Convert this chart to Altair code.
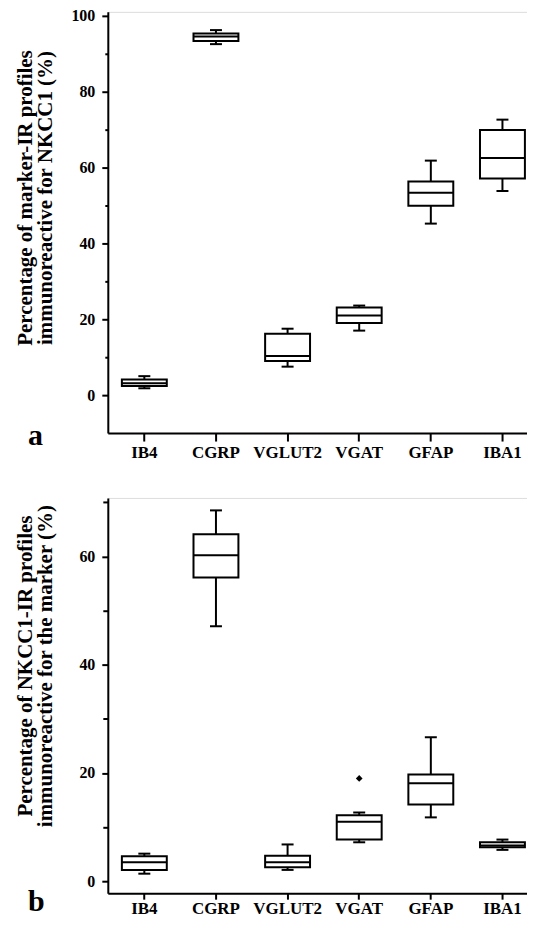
import altair as alt
import pandas as pd

markers = ["IB4", "CGRP", "VGLUT2", "VGAT", "GFAP", "IBA1"]

# Panel a: % of marker-IR profiles immunoreactive for NKCC1
a_low = [1.8, 92.5, 7.5, 17.0, 45.2, 53.8]
a_q1 = [2.4, 93.3, 9.0, 19.0, 49.9, 57.1]
a_med = [3.1, 94.5, 10.3, 21.0, 53.3, 62.5]
a_q3 = [4.1, 95.3, 16.2, 23.1, 56.3, 69.9]
a_high = [5.0, 96.2, 17.5, 23.6, 61.8, 72.6]

# Panel b: % of NKCC1-IR profiles immunoreactive for the marker
b_low = [1.4, 47.1, 2.1, 7.2, 11.8, 5.8]
b_q1 = [2.1, 56.1, 2.6, 7.7, 14.2, 6.3]
b_med = [3.5, 60.2, 3.5, 11.0, 18.1, 6.6]
b_q3 = [4.6, 64.1, 4.7, 12.2, 19.7, 7.2]
b_high = [5.1, 68.5, 6.8, 12.7, 26.6, 7.7]
b_out_marker = ["VGAT"]
b_out_value = [19.0]

a_ticks = [0, 10, 20, 30, 40, 50, 60, 70, 80, 90, 100]
b_ticks = [0, 5, 10, 15, 20, 25, 30, 35, 40, 45, 50, 55, 60, 65, 70]

FONT = "Liberation Serif, Times New Roman, Times, serif"
W = 432


def panel(low, q1, med, q3, high, domain, height, ticks, minor_size,
          title_lines, title_y, letter, letter_dy, xtick, xpad,
          out_m=None, out_v=None):
    df = pd.DataFrame({"marker": markers, "low": low, "q1": q1,
                       "med": med, "q3": q3, "high": high})
    xenc = alt.X("marker:N", sort=markers,
                 scale=alt.Scale(paddingInner=0, paddingOuter=0.01),
                 axis=alt.Axis(title=None, labelAngle=0, labelFont=FONT,
                               labelFontSize=17, labelFontWeight="bold",
                               labelColor="black", tickSize=xtick, tickWidth=2,
                               tickColor="black", domainWidth=2,
                               domainColor="black", labelPadding=xpad))
    yscale = alt.Scale(domain=domain, nice=False, zero=False)
    yaxis = alt.Axis(values=ticks,
                     labelExpr="datum.value % 20 === 0 ? format(datum.value, 'd') : ''",
                     tickSize={"condition": {"test": "datum.value % 20 === 0", "value": 6},
                               "value": minor_size},
                     tickWidth=2, tickColor="black", domainWidth=2,
                     domainColor="black", labelFont=FONT, labelFontSize=16,
                     labelFontWeight="bold", labelColor="black", labelPadding=7,
                     grid=False, title=title_lines, titleFont=FONT,
                     titleFontSize=21, titleFontWeight="bold",
                     titleColor="black", titleLineHeight=20, titleX=-82,
                     titleY=title_y, titleBaseline="middle", titleAlign="center",
                     titleAngle=-90)
    base = alt.Chart(df)
    whisk = base.mark_rule(color="black", strokeWidth=2).encode(
        x=xenc, y=alt.Y("low:Q", scale=yscale, axis=yaxis), y2="high:Q")
    box = base.mark_bar(fill="white", stroke="black", strokeWidth=2, size=45,
                        opacity=1).encode(
        x=alt.X("marker:N", sort=markers), y=alt.Y("q1:Q"), y2="q3:Q")
    medt = base.mark_tick(color="black", thickness=2, size=45, opacity=1).encode(
        x=alt.X("marker:N", sort=markers), y=alt.Y("med:Q"))
    caplo = base.mark_tick(color="black", thickness=2, size=12, opacity=1).encode(
        x=alt.X("marker:N", sort=markers), y=alt.Y("low:Q"))
    caphi = base.mark_tick(color="black", thickness=2, size=12, opacity=1).encode(
        x=alt.X("marker:N", sort=markers), y=alt.Y("high:Q"))
    lab = alt.Chart(pd.DataFrame({"t": [letter]})).mark_text(
        font=FONT, fontSize=30, fontWeight="bold", align="left",
        baseline="alphabetic", color="black").encode(
        x=alt.value(-80), y=alt.value(height + letter_dy), text="t:N")
    layers = [whisk, box, medt, caplo, caphi]
    if out_m:
        odf = pd.DataFrame({"marker": out_m, "v": out_v})
        pts = alt.Chart(odf).mark_point(shape="diamond", filled=True,
                                        color="black", size=45, opacity=1).encode(
            x=alt.X("marker:N", sort=markers), y=alt.Y("v:Q"))
        layers.append(pts)
    layers.append(lab)
    return alt.layer(*layers).properties(width=W, height=height)


pa = panel(a_low, a_q1, a_med, a_q3, a_high, [-10, 101], 422, a_ticks, 3,
           ["Percentage of marker-IR profiles", "immunoreactive for NKCC1 (%)"],
           186, "a", 12, 8, 3)
pb = panel(b_low, b_q1, b_med, b_q3, b_high, [-2.2, 70.8], 396, b_ticks, 5,
           ["Percentage of NKCC1-IR profiles", "immunoreactive for the marker (%)"],
           168, "b", 18, 6, 1, b_out_marker, b_out_value)

chart = alt.vconcat(pa, pb, spacing=36).properties(
    padding={"left": 6, "top": -2, "right": -13, "bottom": 5}
).configure_view(stroke=None).configure(background="white")

chart.save("out.html", embed_options={"renderer": "svg", "actions": False})
